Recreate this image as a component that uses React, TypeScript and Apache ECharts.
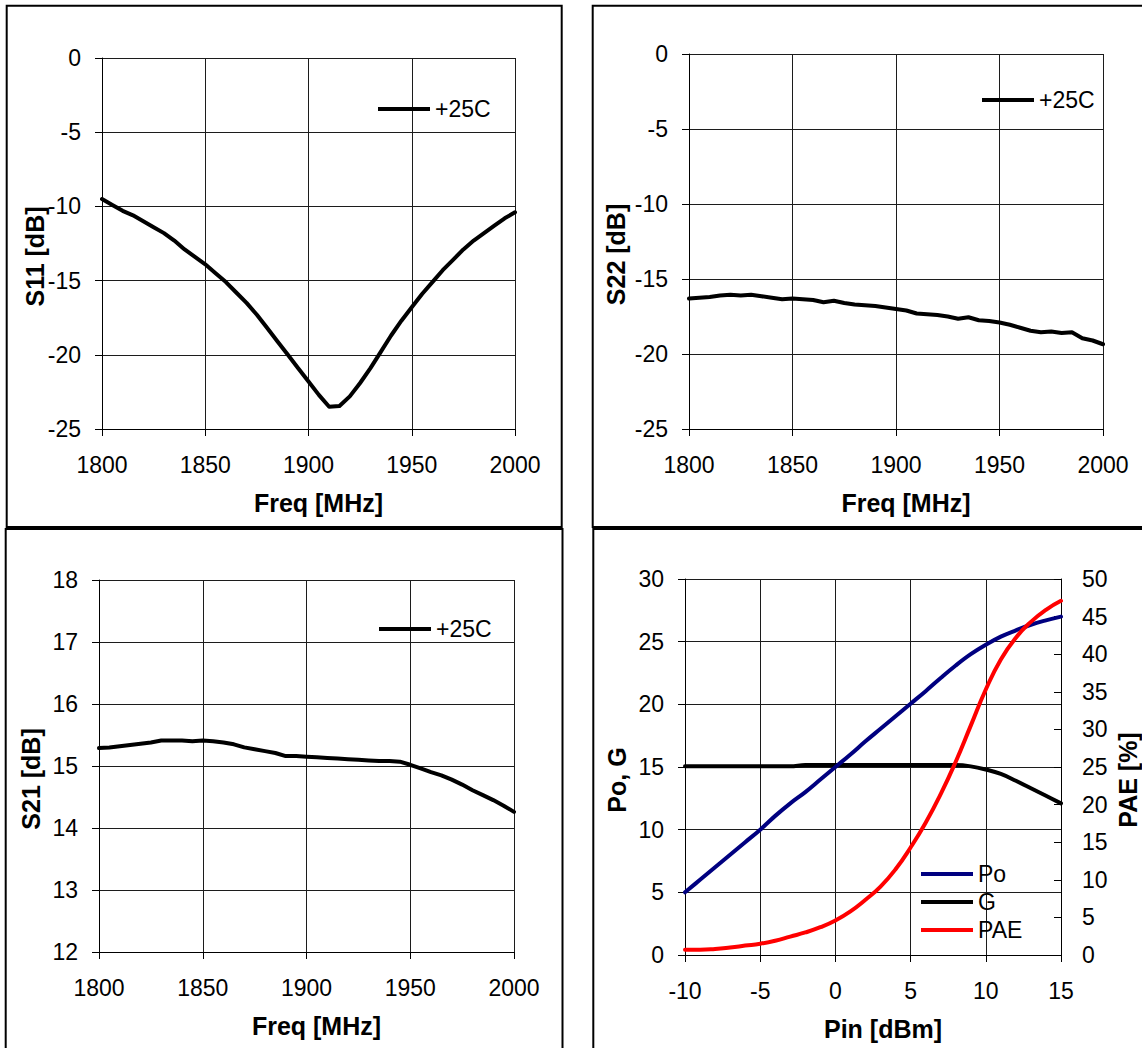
import { useEffect, useRef } from "react";
import * as echarts from "echarts";

// Frequency sweep (MHz) shared by the three small-signal plots
const FREQ_MHZ = [
  1800, 1805, 1810, 1815, 1820, 1825, 1830, 1835, 1840, 1845, 1850,
  1855, 1860, 1865, 1870, 1875, 1880, 1885, 1890, 1895, 1900,
  1905, 1910, 1915, 1920, 1925, 1930, 1935, 1940, 1945, 1950,
  1955, 1960, 1965, 1970, 1975, 1980, 1985, 1990, 1995, 2000,
];

// Input return loss, +25C
const S11_DB = [
  -9.5, -9.9, -10.3, -10.6, -11.0, -11.4, -11.8, -12.3, -12.9, -13.4, -13.9,
  -14.5, -15.1, -15.8, -16.5, -17.3, -18.2, -19.1, -20.0, -20.9, -21.8,
  -22.7, -23.5, -23.45, -22.8, -21.9, -20.9, -19.8, -18.7, -17.7, -16.8,
  -15.9, -15.1, -14.3, -13.6, -12.9, -12.3, -11.8, -11.3, -10.8, -10.4,
];

// Output return loss, +25C
const S22_DB = [
  -16.3, -16.25, -16.2, -16.1, -16.05, -16.1, -16.05, -16.15, -16.25, -16.35, -16.3,
  -16.35, -16.4, -16.55, -16.45, -16.6, -16.7, -16.75, -16.8, -16.9, -17.0,
  -17.1, -17.3, -17.35, -17.4, -17.5, -17.65, -17.55, -17.75, -17.8, -17.9,
  -18.05, -18.25, -18.45, -18.55, -18.5, -18.6, -18.55, -18.95, -19.1, -19.35,
];

// Small-signal gain, +25C
const S21_DB = [
  15.29, 15.3, 15.32, 15.34, 15.36, 15.38, 15.41, 15.41, 15.41, 15.4, 15.41,
  15.4, 15.38, 15.35, 15.3, 15.27, 15.24, 15.21, 15.16, 15.16, 15.15,
  15.14, 15.13, 15.12, 15.11, 15.1, 15.09, 15.08, 15.08, 15.07, 15.02,
  14.96, 14.9, 14.85, 14.78, 14.7, 14.61, 14.53, 14.45, 14.36, 14.26,
];

// Power sweep (dBm)
const PIN_DBM = [
  -10, -9, -8, -7, -6, -5, -4, -3, -2, -1, 0, 1, 2,
  3, 4, 5, 6, 7, 8, 9, 10, 11, 12, 13, 14, 15,
];
const PO_DBM = [
  5.0, 6.0, 7.0, 8.0, 9.0, 10.0, 11.1, 12.1, 13.0, 14.0, 15.0, 16.0, 17.05,
  18.05, 19.05, 20.05, 21.05, 22.1, 23.1, 24.0, 24.75, 25.4, 25.9, 26.35, 26.7, 27.0,
];
const GAIN_DB = [
  15.05, 15.05, 15.05, 15.05, 15.05, 15.05, 15.05, 15.05, 15.15, 15.15, 15.15, 15.15, 15.15,
  15.15, 15.15, 15.15, 15.15, 15.15, 15.15, 15.05, 14.8, 14.45, 13.9, 13.3, 12.7, 12.1,
];
const PAE_PCT = [
  0.7, 0.7, 0.8, 1.0, 1.25, 1.5, 1.9, 2.45, 3.0, 3.7, 4.6, 5.8, 7.35,
  9.1, 11.4, 14.3, 17.6, 21.4, 25.7, 30.5, 35.3, 39.3, 42.2, 44.3, 45.9, 47.1,
];

// Axis ranges: [min, max, step]
const FREQ_RANGE = [1800, 2000, 50];
const RL_RANGE = [-25, 0, 5];
const GAIN_RANGE = [12, 18, 1];
const PIN_RANGE = [-10, 15, 5];
const POG_RANGE = [0, 30, 5];
const PAE_RANGE = [0, 50, 5];

const LEGEND_25C = "+25C";
const SERIES_NAMES = ["Po", "G", "PAE"];

const FONT = "'Liberation Sans', Arial, Helvetica, sans-serif";
const TICK_FONT = 23;
const TITLE_FONT = 25;
const GRID_COLOR = "#1c1c1c";

const plainNumber = (v: number) => String(v);

const titleStyle = (padding: number[]) => ({
  fontFamily: FONT,
  fontSize: TITLE_FONT,
  fontWeight: "bold",
  color: "#000",
  padding,
});

function xAxisOf(gridIndex: number, range: number[], name: string) {
  return {
    type: "value",
    gridIndex,
    min: range[0],
    max: range[1],
    interval: range[2],
    name,
    nameLocation: "middle",
    nameGap: 61,
    nameMoveOverlap: false,
    nameTextStyle: titleStyle([0, 0, 0, 20]),
    axisLine: { show: true, onZero: false, lineStyle: { color: "#000", width: 1 } },
    axisTick: { show: true, inside: false, length: 7, lineStyle: { color: "#000", width: 1 } },
    axisLabel: {
      color: "#000",
      fontFamily: FONT,
      fontSize: TICK_FONT,
      margin: 24,
      formatter: plainNumber,
    },
    splitLine: { show: true, lineStyle: { color: GRID_COLOR, width: 1 } },
  };
}

function yAxisOf(
  gridIndex: number,
  range: number[],
  name: string,
  nameGap: number,
  opts: { position?: string; tickInside?: boolean; grid?: boolean } = {}
) {
  return {
    type: "value",
    gridIndex,
    position: opts.position ?? "left",
    min: range[0],
    max: range[1],
    interval: range[2],
    name,
    nameLocation: "middle",
    nameRotate: 90,
    nameGap,
    nameMoveOverlap: false,
    nameTextStyle: titleStyle([0, 26, 0, 0]),
    axisLine: { show: true, onZero: false, lineStyle: { color: "#000", width: 1 } },
    axisTick: {
      show: true,
      inside: !!opts.tickInside,
      length: 7,
      lineStyle: { color: "#000", width: 1 },
    },
    axisLabel: {
      color: "#000",
      fontFamily: FONT,
      fontSize: TICK_FONT,
      margin: 21,
      formatter: plainNumber,
    },
    splitLine: { show: opts.grid !== false, lineStyle: { color: GRID_COLOR, width: 1 } },
  };
}

function lineSeries(
  name: string,
  axisIndex: number,
  yAxisIndex: number,
  xs: number[],
  ys: number[],
  color: string,
  smooth: number | boolean = false
) {
  return {
    type: "line",
    name,
    xAxisIndex: axisIndex,
    yAxisIndex,
    data: xs.map((x, i) => [x, ys[i]]),
    showSymbol: false,
    symbol: "none",
    smooth,
    silent: true,
    lineStyle: { color, width: 4, join: "round", cap: "round" },
    itemStyle: { color },
  };
}

function legendAt(data: string[], left: number, top: number, orient = "horizontal") {
  return {
    data,
    left,
    top,
    orient,
    padding: 0,
    itemGap: 4,
    icon: "rect",
    itemWidth: 52,
    itemHeight: 4,
    selectedMode: false,
    textStyle: { color: "#000", fontFamily: FONT, fontSize: TICK_FONT, lineHeight: 24 },
  };
}

function frame(x: number, y: number, w: number, h: number) {
  return {
    type: "rect",
    silent: true,
    shape: { x, y, width: w, height: h },
    style: { fill: "none", stroke: "#000", lineWidth: 2 },
  };
}

function buildOption() {
  return {
    animation: false,
    backgroundColor: "#fff",
    textStyle: { fontFamily: FONT },
    grid: [
      { left: 102, top: 58, width: 413, height: 371, outerBoundsMode: "none" },
      { left: 689, top: 54, width: 414, height: 375, outerBoundsMode: "none" },
      { left: 99, top: 580, width: 415, height: 372, outerBoundsMode: "none" },
      { left: 685, top: 579, width: 376, height: 376, outerBoundsMode: "none" },
    ],
    xAxis: [
      xAxisOf(0, FREQ_RANGE, "Freq [MHz]"),
      xAxisOf(1, FREQ_RANGE, "Freq [MHz]"),
      xAxisOf(2, FREQ_RANGE, "Freq [MHz]"),
      xAxisOf(3, PIN_RANGE, "Pin [dBm]"),
    ],
    yAxis: [
      yAxisOf(0, RL_RANGE, "S11 [dB]", 55),
      yAxisOf(1, RL_RANGE, "S22 [dB]", 61),
      yAxisOf(2, GAIN_RANGE, "S21 [dB]", 56),
      yAxisOf(3, POG_RANGE, "Po, G", 56),
      yAxisOf(3, PAE_RANGE, "PAE [%]", 54, { position: "right", tickInside: true, grid: false }),
    ],
    legend: [
      legendAt([LEGEND_25C], 378, 97),
      legendAt([LEGEND_25C], 982, 88),
      legendAt([LEGEND_25C], 379, 617),
      legendAt(SERIES_NAMES, 921, 862, "vertical"),
    ],
    series: [
      lineSeries(LEGEND_25C, 0, 0, FREQ_MHZ, S11_DB, "#000"),
      lineSeries(LEGEND_25C, 1, 1, FREQ_MHZ, S22_DB, "#000"),
      lineSeries(LEGEND_25C, 2, 2, FREQ_MHZ, S21_DB, "#000"),
      lineSeries(SERIES_NAMES[1], 3, 3, PIN_DBM, GAIN_DB, "#000", 0.4),
      lineSeries(SERIES_NAMES[0], 3, 3, PIN_DBM, PO_DBM, "#000080", 0.4),
      lineSeries(SERIES_NAMES[2], 3, 4, PIN_DBM, PAE_PCT, "#ff0000", 0.5),
    ],
    graphic: [
      frame(6.7, 5.7, 555, 521.3),
      frame(592.7, 5.7, 560, 521.3),
      frame(5.7, 529, 556.8, 530),
      frame(593.3, 529, 560, 530),
    ],
  };
}

export default function App() {
  const ref = useRef<HTMLDivElement>(null);
  useEffect(() => {
    const el = ref.current;
    if (!el) return;
    const chart = echarts.init(el, null, { renderer: "svg" });
    chart.setOption(buildOption() as any);
    return () => chart.dispose();
  }, []);
  return (
    <div
      ref={ref}
      style={{
        position: "absolute",
        left: 0,
        top: 0,
        width: 1142,
        height: 1048,
        background: "#fff",
      }}
    />
  );
}
